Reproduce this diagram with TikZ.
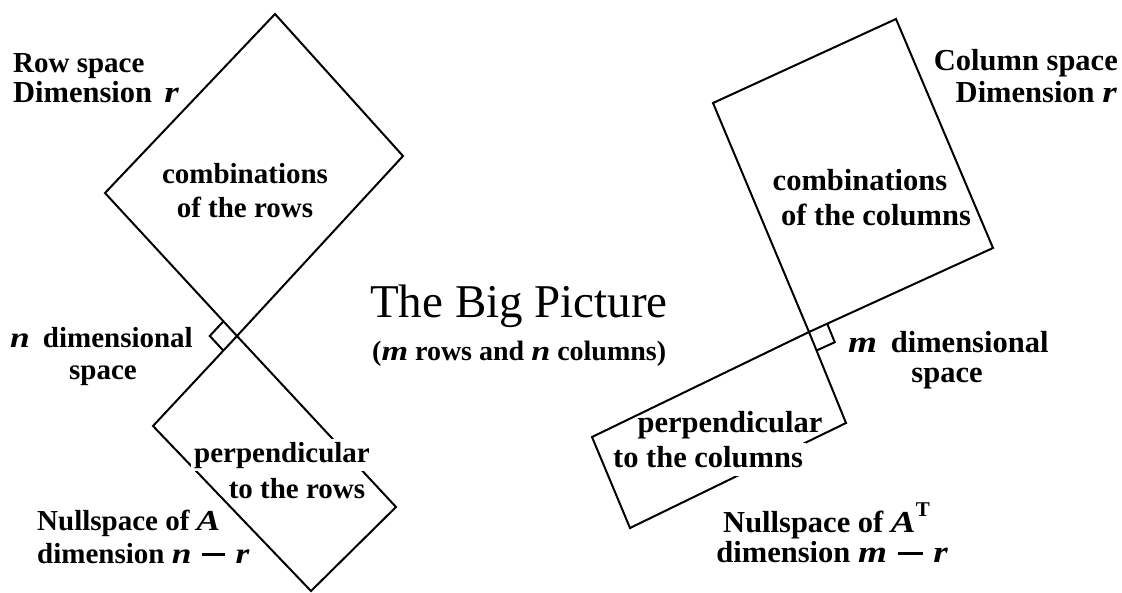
\documentclass[tikz,border=0pt]{standalone}
\usepackage{fontspec}
\setmainfont{Liberation Serif}
\newfontfamily\bivarfont{Liberation Serif}[FakeStretch=1.22]
\usetikzlibrary{calc}
\newcommand{\bvar}[1]{{\bivarfont\bfseries\itshape #1}}
\newcommand{\bminus}{\hspace{0.35em}\rule[0.24em]{0.82em}{0.095em}\hspace{0.35em}}
\tikzset{
  edge/.style={line width=2pt, line join=miter},
  lbl/.style={font=\fontsize{29}{33}\selectfont\bfseries, inner sep=0pt},
  lblR/.style={font=\fontsize{30.5}{35}\selectfont\bfseries, inner sep=0pt},
  gapfill/.style={fill=white, inner sep=3pt},
  titlefont/.style={font=\fontsize{47}{50}\selectfont, inner sep=0pt}
}
\begin{document}
\begin{tikzpicture}[x=1pt,y=-1pt]
\useasboundingbox (0,0) rectangle (1122,592);
% ---- left figure ----
\coordinate (T1) at (275,14);
\coordinate (R1) at (403,156);
\coordinate (L1) at (105,193);
\coordinate (V1) at (237,336);
\coordinate (L2) at (153,426);
\coordinate (R2) at (396,507);
\coordinate (B2) at (311,591);
\draw[edge] (T1) -- (R1) -- (V1) -- (L1) -- cycle;
\draw[edge] (V1) -- (R2) -- (B2) -- (L2) -- cycle;
\coordinate (mA) at ($(V1)!20pt!(L1)$);
\coordinate (mB) at ($(V1)!20pt!(L2)$);
\coordinate (mC) at ($(mA)+(mB)-(V1)$);
\draw[line width=2pt] (mA) -- (mC) -- (mB);
% ---- right figure ----
\coordinate (T3) at (896,19);
\coordinate (L3) at (713,103);
\coordinate (R3) at (993,248);
\coordinate (V3) at (809,332);
\coordinate (R4) at (846,423);
\coordinate (L4) at (592,437);
\coordinate (B4) at (630,528);
\draw[edge] (T3) -- (R3) -- (V3) -- (L3) -- cycle;
\draw[edge] (V3) -- (R4) -- (B4) -- (L4) -- cycle;
\coordinate (nA) at ($(V3)!20pt!(R3)$);
\coordinate (nB) at ($(V3)!20pt!(R4)$);
\coordinate (nC) at ($(nA)+(nB)-(V3)$);
\draw[line width=2pt] (nA) -- (nC) -- (nB);
% ---- left texts ----
\node[lbl, anchor=base west] (rs1) at (13,72) {Row space};
\node[lblR, anchor=base west] (rs2) at (13,102) {Dimension\hspace{0.15em} \bvar{r}};
\node[lbl, anchor=base] (cr1) at (245,183) {combinations};
\node[lbl, anchor=base] (cr2) at (245,217) {of the rows};
\node[lbl, anchor=base west] (nd1) at (10,347) {\bvar{n}\hspace{0.2em} dimensional};
\node[lbl, anchor=base] (nd2) at (103,379) {space};
\node[lbl, gapfill, anchor=base] (pr1) at (282,462) {perpendicular};
\node[lbl, anchor=base] (pr2) at (297,498) {to the rows};
\node[lbl, anchor=base west] (ns1) at (37,530) {Nullspace of \bvar{A}};
\node[lbl, anchor=base west] (ns2) at (37,563) {dimension \bvar{n}\bminus\bvar{r}};
% ---- centre ----
\node[titlefont, anchor=base west] (ttl) at (370,317) {The Big Picture};
\node[lbl, font=\fontsize{28}{32}\selectfont\bfseries, anchor=base west] (sub) at (372,360) {(\bvar{m} rows and \bvar{n} columns)};
% ---- right texts ----
\node[lblR, anchor=base east] (cs1) at (1118,70) {Column space};
\node[lblR, anchor=base east] (cs2) at (1117,102) {Dimension \bvar{r}};
\node[lblR, anchor=base] (cc1) at (860,190) {combinations};
\node[lblR, anchor=base] (cc2) at (876,225) {of the columns};
\node[lblR, anchor=base west] (md1) at (848,352) {\bvar{m}\hspace{0.2em} dimensional};
\node[lblR, anchor=base] (md2) at (947,382) {space};
\node[lblR, anchor=base] (pc1) at (730,432) {perpendicular};
\node[lblR, gapfill, text depth=6pt, anchor=base] (pc2) at (708,467) {to the columns};
\node[lblR, anchor=base east] (nt1) at (930,532) {Nullspace of \bvar{A}\raisebox{0.5em}{\fontsize{21}{24}\selectfont T}};
\node[lblR, anchor=base east] (nt2) at (948,562) {dimension \bvar{m}\bminus\bvar{r}};
\end{tikzpicture}
\end{document}
